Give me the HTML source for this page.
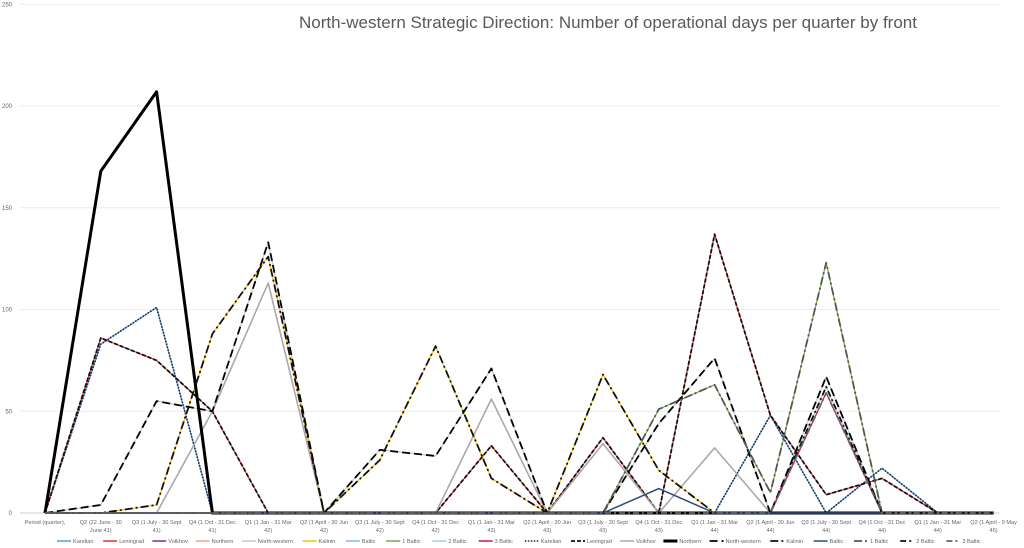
<!DOCTYPE html>
<html><head><meta charset="utf-8"><style>
html,body{margin:0;padding:0;background:#fff;}
svg{display:block;font-family:"Liberation Sans",sans-serif;}
</style></head><body>
<svg id="chart" width="1024" height="548" viewBox="0 0 1024 548">
<text x="608" y="28" text-anchor="middle" font-size="17" fill="#595959">North-western Strategic Direction: Number of operational days per quarter by front</text>
<g id="grid"></g><g id="yt"></g><g id="xt"></g><g id="lines"></g><g id="legend"></g>
</svg>
<script>
const categories = ["Period (quarter),","Q2 (22 June - 30|June 41)","Q3 (1 July - 30 Sept|41)","Q4 (1 Oct - 31 Dec|41)","Q1 (1 Jan - 31 Mar|42)","Q2 (1 April - 30 Jun|42)","Q3 (1 July - 30 Sept|42)","Q4 (1 Oct - 31 Dec|42)","Q1 (1 Jan - 31 Mar|43)","Q2 (1 April - 30 Jun|43)","Q3 (1 July - 30 Sept|43)","Q4 (1 Oct - 31 Dec|43)","Q1 (1 Jan - 31 Mar|44)","Q2 (1 April - 30 Jun|44)","Q3 (1 July - 30 Sept|44)","Q4 (1 Oct - 31 Dec|44)","Q1 (1 Jan - 31 Mar|44)","Q2 (1 April - 9 May|45)"];
const yTicks = [0,50,100,150,200,250];
const frontNames = ["Karelian","Leningrad","Volkhov","Northern","North-western","Kalinin","Baltic","1 Baltic","2 Baltic","3 Baltic"];
const karelian     = [0,83,101,0,0,0,0,0,0,0,0,0,0,48,0,22,0,0];
const leningrad    = [0,86,75,50,0,0,0,0,33,0,37,0,137,48,9,17,0,0];
const volkhov      = [0,0,0,50,113,0,0,0,56,0,34,0,32,0,0,0,0,0];
const northern     = [0,168,207,0,0,0,0,0,0,0,0,0,0,0,0,0,0,0];
const northWestern = [0,4,55,50,133,0,31,28,71,0,0,44,76,0,67,0,0,0];
const kalinin      = [0,0,4,88,126,0,26,82,17,0,68,21,0,0,0,0,0,0];
const baltic       = [0,0,0,0,0,0,0,0,0,0,0,12,0,0,0,0,0,0];
const baltic1      = [0,0,0,0,0,0,0,0,0,0,0,51,63,10,123,0,0,0];
const baltic2      = [0,0,0,0,0,0,0,0,0,0,0,0,0,0,62,0,0,0];
const baltic3      = [0,0,0,0,0,0,0,0,0,0,0,0,0,0,59,0,0,0];
const seriesData = [karelian,leningrad,volkhov,northern,northWestern,kalinin,baltic,baltic1,baltic2,baltic3];

const NS="http://www.w3.org/2000/svg";
const x0=45, step=55.8, yBase=513, yScale=407/200;
const xAt=i=>x0+i*step, yAt=v=>yBase-v*yScale;
function mk(t,a,p){const e=document.createElementNS(NS,t);for(const k in a)e.setAttribute(k,a[k]);p.appendChild(e);return e;}
const colors=["#5b9bd5","#e03030","#7030a0","#f4a582","#c8c8c8","#ffc000","#8fb4e0","#70ad47","#b4c7e7","#c0185a"];
const styles=[
 {c:"#1a2a40",w:1.6,d:"1.5,1.5"},{c:"#111",w:1.8,d:"4,2"},{c:"#aaa",w:1.5,d:""},{c:"#000",w:3,d:""},
 {c:"#000",w:1.8,d:"8,4"},{c:"#111",w:1.8,d:"8,3,2,3"},{c:"#2f4b7c",w:1.5,d:""},{c:"#555",w:1.8,d:"8,3,2,3"},
 {c:"#111",w:1.8,d:"6,3,2,3"},{c:"#666",w:1.8,d:"6,3,2,3"}];

const grid=document.getElementById('grid'), yt=document.getElementById('yt'), xt=document.getElementById('xt');
yTicks.forEach(v=>{
  if(v>0){const g=mk('line',{x1:20,x2:1000,y1:yAt(v),y2:yAt(v),stroke:"#ececec","stroke-width":1},grid);
  
  }
  const t=mk('text',{x:12,y:yAt(v)+2,"text-anchor":"end","font-size":6,fill:"#666"},yt);
  t.textContent=v;
  
  
});
const ax=mk('line',{x1:20,x2:1000,y1:yBase,y2:yBase,stroke:"#d0d0d0","stroke-width":1},grid);


categories.forEach((c,i)=>{
  c.split('|').forEach((ln,k)=>{
    const t=mk('text',{x:xAt(i),y:524+k*8,"text-anchor":"middle","font-size":5.6,fill:"#666"},xt);
    t.textContent=ln;
    
    
  });
});
const lines=document.getElementById('lines');
seriesData.forEach((s,j)=>{
  const pts=s.map((v,i)=>xAt(i).toFixed(1)+","+yAt(v).toFixed(1)).join(" ");
  const p=mk('polyline',{points:pts,fill:"none",stroke:colors[j],"stroke-width":1.2,"stroke-linejoin":"round"},lines);
  
  
});
seriesData.forEach((s,j)=>{
  const st=styles[j];
  const pts=s.map((v,i)=>xAt(i).toFixed(1)+","+yAt(v).toFixed(1)).join(" ");
  const a={points:pts,fill:"none",stroke:st.c,"stroke-width":st.w,"stroke-linejoin":"round"};
  if(st.d)a["stroke-dasharray"]=st.d;
  const p=mk('polyline',a,lines);
  
  
});
const leg=document.getElementById('legend');
let lx=57;const ly=541;
function legEntry(name,col,w,d){
  const g=mk('g',{},leg);
  
  
  const a={x1:lx,x2:lx+14,y1:ly,y2:ly,stroke:col,"stroke-width":w};
  if(d)a["stroke-dasharray"]=d;
  mk('line',a,g);
  const t=mk('text',{x:lx+16,y:ly+2,"font-size":5.6,fill:"#666"},g);
  t.textContent=name;
  lx+=16+name.length*2.9+7;
}
frontNames.forEach((n,j)=>legEntry(n,colors[j],1.5,""));
frontNames.forEach((n,j)=>legEntry(n,styles[j].c,styles[j].w,styles[j].d));
</script>
</body></html>
